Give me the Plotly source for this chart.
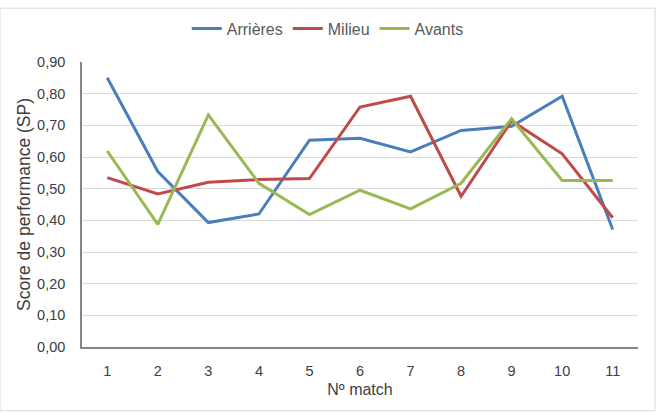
import plotly.graph_objects as go

matches = [1, 2, 3, 4, 5, 6, 7, 8, 9, 10, 11]
arrieres = [0.85, 0.554, 0.393, 0.42, 0.653, 0.659, 0.616, 0.684, 0.697, 0.792, 0.371]
milieu = [0.535, 0.483, 0.52, 0.529, 0.532, 0.758, 0.792, 0.476, 0.714, 0.61, 0.408]
avants = [0.619, 0.387, 0.733, 0.517, 0.418, 0.495, 0.436, 0.517, 0.721, 0.526, 0.526]

series = [("Arrières", arrieres, "#4a7ebb"),
          ("Milieu", milieu, "#be4b48"),
          ("Avants", avants, "#98b954")]

fig = go.Figure()
for name, vals, col in series:
    fig.add_trace(go.Scatter(x=matches, y=vals, name=name, mode="lines",
                             line=dict(color=col, width=3)))

font = "Liberation Sans, Arial, sans-serif"
fig.update_layout(
    width=657, height=412,
    margin=dict(l=82, r=19, t=56, b=65),
    paper_bgcolor="white", plot_bgcolor="white",
    separators=", ",
    font=dict(family=font, size=14.5, color="#404040"),
    legend=dict(orientation="h", x=0.442, xanchor="center", y=1.117, yanchor="middle",
                font=dict(size=16, color="#595959"), itemwidth=30, tracegroupgap=0),
    xaxis=dict(range=[0.5, 11.5], dtick=1, tick0=1, showgrid=False,
               showline=True, linecolor="#868686", linewidth=1.5,
               ticks="", ticklabelstandoff=10,
               title=dict(text="Nº match", font=dict(size=16, color="#404040"), standoff=6)),
    yaxis=dict(range=[0, 0.9], dtick=0.1, tickformat=".2f",
               showgrid=True, gridcolor="#d9d9d9", gridwidth=1,
               showline=True, linecolor="#868686", linewidth=1.5,
               zeroline=False, ticks="", ticklabelstandoff=12,
               title=dict(text="Score de performance (SP)", font=dict(size=17.5, color="#404040"), standoff=2)),
    shapes=[dict(type="rect", xref="paper", yref="paper", x0=-82/556, x1=1+17/556,
                 y0=-65/291, y1=1+55/291, line=dict(color="#d9d9d9", width=1))],
)

fig.write_html("out.html")
